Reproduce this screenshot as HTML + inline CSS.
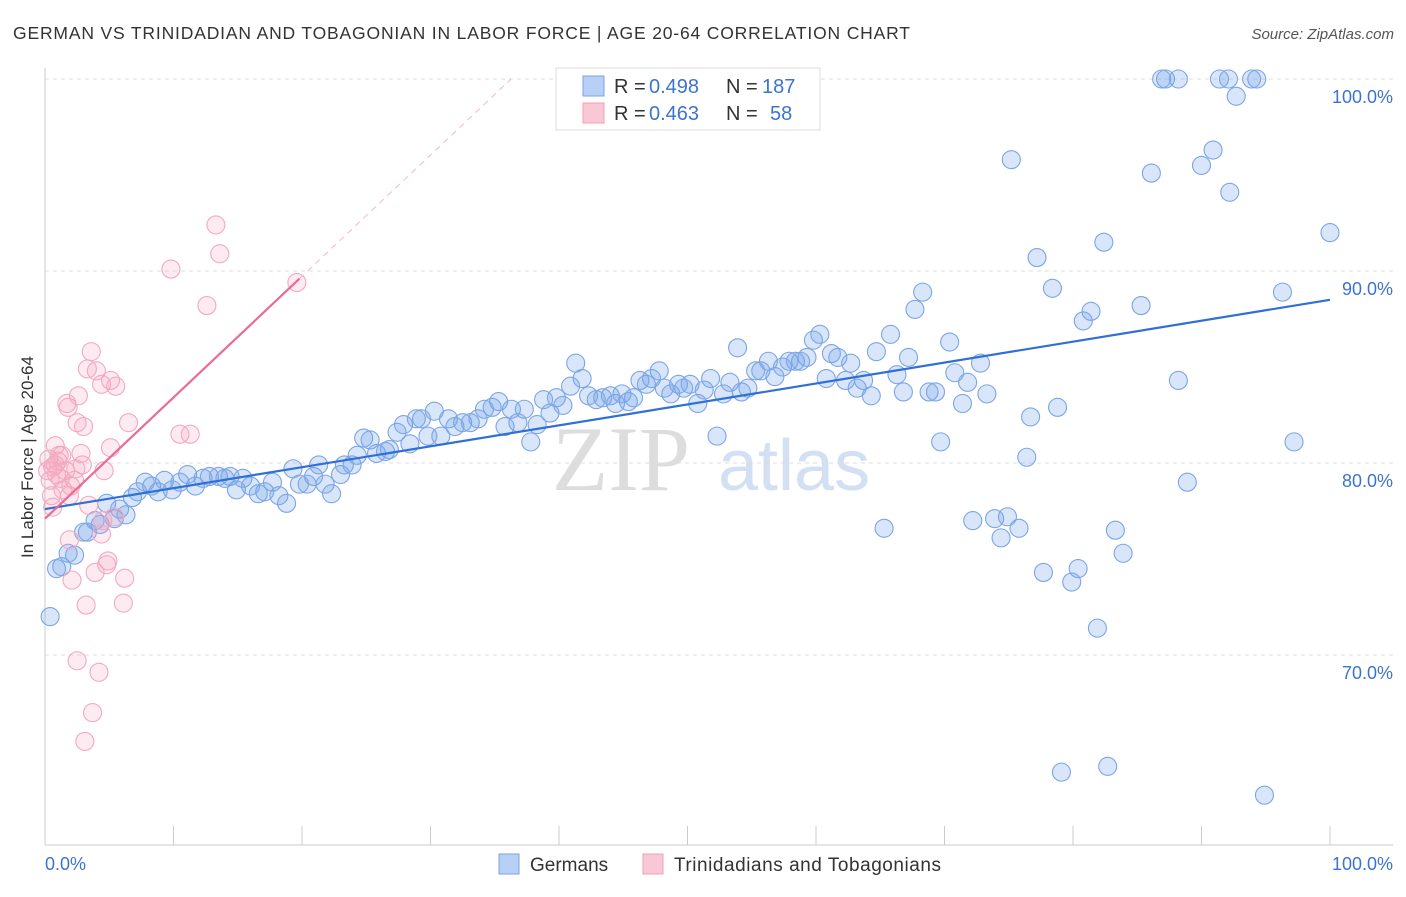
<!DOCTYPE html>
<html><head><meta charset="utf-8">
<style>
body{margin:0;background:#fff;font-family:"Liberation Sans",sans-serif;}
svg text{font-family:"Liberation Sans",sans-serif;}
</style></head>
<body>
<svg id="chart" width="1406" height="892" xmlns="http://www.w3.org/2000/svg">
<text x="13" y="39" font-size="17.5" fill="#333" textLength="897" lengthAdjust="spacing">GERMAN VS TRINIDADIAN AND TOBAGONIAN IN LABOR FORCE | AGE 20-64 CORRELATION CHART</text>
<text x="1394" y="39" font-size="15" fill="#555" font-style="italic" text-anchor="end">Source: ZipAtlas.com</text>
<g>
<text x="552" y="490" font-size="92" fill="#ddd" style="font-family:'Liberation Serif',serif">ZIP</text>
<text x="718" y="490" font-size="72" fill="#d3e0f4">atlas</text>
</g>
<g id="grid"></g>
<g id="axes"></g>
<g id="pts"></g>
<g id="trends"></g>
<text transform="translate(33,457) rotate(-90)" font-size="17" fill="#333" text-anchor="middle">In Labor Force | Age 20-64</text>
<g>
<rect x="556" y="68" width="264" height="62" fill="#fff" stroke="#ddd"/>
<rect x="583" y="76" width="21" height="20" fill="#b8d0f5" stroke="#7aa3e6"/>
<rect x="583" y="103" width="21" height="20" fill="#f9c8d6" stroke="#efa0b8"/>
<text x="614" y="93" font-size="20" fill="#333">R =</text>
<text x="649" y="93" font-size="20" fill="#3a74d0">0.498</text>
<text x="726" y="93" font-size="20" fill="#333">N =</text>
<text x="762" y="93" font-size="20" fill="#3a74d0">187</text>
<text x="614" y="120" font-size="20" fill="#333">R =</text>
<text x="649" y="120" font-size="20" fill="#3a74d0">0.463</text>
<text x="726" y="120" font-size="20" fill="#333">N =</text>
<text x="770" y="120" font-size="20" fill="#3a74d0">58</text>
</g>
<g>
<rect x="499" y="854" width="20" height="20" fill="#b8d0f5" stroke="#7aa3e6"/>
<text x="530" y="871" font-size="19" fill="#333">Germans</text>
<rect x="643" y="854" width="20" height="20" fill="#f9c8d6" stroke="#efa0b8"/>
<text x="674" y="871" font-size="19" fill="#333" textLength="267" lengthAdjust="spacing">Trinidadians and Tobagonians</text>
</g>
</svg>
<script>
const yTicks=[100,90,80,70];
const yTickLabels=["100.0%","90.0%","80.0%","70.0%"];
const xTickLabels=["0.0%","100.0%"];
const blueX=[0.4,0.9,1.3,1.8,2.3,3.0,3.3,3.9,4.3,4.8,5.4,5.8,6.3,6.8,7.2,7.8,8.3,8.8,9.3,9.9,10.5,11.1,11.7,12.3,12.8,13.5,14.0,14.4,14.9,15.4,16.0,16.6,17.1,17.7,18.2,18.8,19.3,19.8,20.4,20.9,21.3,21.8,22.3,23.0,23.3,23.9,24.3,24.8,25.3,25.8,26.5,26.8,27.4,27.9,28.4,28.9,29.3,29.8,30.3,30.8,31.4,31.9,32.5,33.1,33.7,34.2,34.8,35.3,35.8,36.3,36.8,37.3,37.8,38.3,38.8,39.3,39.8,40.3,40.9,41.3,41.8,42.3,42.9,43.4,44.0,44.4,44.9,45.4,45.8,46.3,46.8,47.2,47.8,48.2,48.7,49.3,49.7,50.2,50.8,51.3,51.8,52.3,52.8,53.3,53.9,54.2,54.7,55.3,55.7,56.3,56.8,57.4,57.9,58.4,58.8,59.3,59.8,60.3,60.8,61.2,61.7,62.3,62.7,63.2,63.7,64.3,64.7,65.3,65.8,66.3,66.8,67.2,67.7,68.3,68.8,69.3,69.7,70.4,70.8,71.4,71.8,72.2,72.8,73.3,73.9,74.4,74.9,75.2,75.8,76.4,76.7,77.2,77.7,78.4,78.8,79.1,79.9,80.4,80.8,81.4,81.9,82.4,82.7,83.3,83.9,85.3,86.1,86.9,87.2,88.2,88.2,88.9,90.0,90.9,91.4,92.1,92.2,92.7,93.9,94.3,94.9,96.3,97.2,100];
const blueY=[72.0,74.5,74.6,75.3,75.2,76.4,76.4,77.0,76.8,77.9,77.1,77.6,77.3,78.2,78.5,79.0,78.8,78.5,79.1,78.6,79.0,79.4,78.8,79.2,79.3,79.3,79.2,79.3,78.6,79.2,78.8,78.4,78.5,79.0,78.3,77.9,79.7,78.9,78.9,79.3,79.9,78.9,78.4,79.4,79.9,79.9,80.4,81.3,81.2,80.5,80.6,80.7,81.6,82.0,81.0,82.3,82.3,81.4,82.7,81.4,82.3,81.9,82.1,82.1,82.3,82.8,82.9,83.2,81.9,82.8,82.1,82.8,81.1,82.0,83.3,82.6,83.4,83.0,84.0,85.2,84.4,83.5,83.3,83.4,83.5,83.1,83.6,83.2,83.4,84.3,84.1,84.4,84.8,83.9,83.6,84.1,83.9,84.1,83.1,83.8,84.4,81.4,83.6,84.2,86.0,83.7,83.9,84.8,84.8,85.3,84.5,85.0,85.3,85.3,85.3,85.5,86.4,86.7,84.4,85.7,85.5,84.3,85.2,83.9,84.3,83.5,85.8,76.6,86.7,84.6,83.7,85.5,88.0,88.9,83.7,83.7,81.1,86.3,84.7,83.1,84.2,77.0,85.2,83.6,77.1,76.1,77.2,95.8,76.6,80.3,82.4,90.7,74.3,89.1,82.9,63.9,73.8,74.5,87.4,87.9,71.4,91.5,64.2,76.5,75.3,88.2,95.1,100,100,100,84.3,79.0,95.5,96.3,100,100,94.1,99.1,100,100,62.7,88.9,81.1,92.0];
const pinkX=[0.2,0.4,0.5,0.6,0.8,0.8,0.9,1.1,1.2,1.3,1.4,1.6,1.7,1.8,1.9,1.9,2.1,2.3,2.4,2.5,2.5,2.6,2.8,2.9,3.0,3.1,3.2,3.3,3.4,3.6,3.7,3.9,4.0,4.2,4.4,4.4,4.5,4.6,4.8,4.9,5.1,5.1,5.4,5.5,6.1,6.2,6.5,9.8,10.5,11.3,12.6,13.3,13.6,19.6,0.3,1.0,2.0,0.6];
const pinkY=[79.6,79.1,78.3,77.7,80.9,79.9,79.4,80.4,79.2,80.4,78.6,79.6,83.1,82.9,78.3,76.0,73.9,79.1,79.7,82.1,69.7,83.5,80.5,79.9,81.9,65.5,72.6,84.9,77.8,85.8,67.0,74.3,84.8,69.1,84.1,76.3,77.0,79.6,74.7,74.9,84.3,80.8,77.2,84.0,72.7,74.0,82.1,90.1,81.5,81.5,88.2,92.4,90.9,89.4,80.2,80.1,78.8,79.8];
const blueTrend=[77.6,88.5];
const pinkTrend=[77.1,89.6];
const pinkTrendEnd=19.8;

const NS="http://www.w3.org/2000/svg";
const X0=45,X1=1330,Y100=79,PX10=192;
const sx=v=>X0+(X1-X0)*v/100;
const sy=v=>Y100+(100-v)*PX10/10;
function mk(tag,attrs,parent){const e=document.createElementNS(NS,tag);for(const k in attrs)e.setAttribute(k,attrs[k]);parent.appendChild(e);return e;}
const grid=document.getElementById('grid'),axes=document.getElementById('axes'),pts=document.getElementById('pts'),tr=document.getElementById('trends');
yTicks.forEach((t,i)=>{
  const l=mk('line',{x1:45,x2:1393,y1:sy(t),y2:sy(t),stroke:'#ddd','stroke-dasharray':'4,4'},grid);
  
  
  const tx=mk('text',{x:1393,y:sy(t)+24,'font-size':18,fill:'#3a74d0','text-anchor':'end'},axes);
  tx.textContent=yTickLabels[i];
  
  
});
const ax=mk('line',{x1:45,x2:1393,y1:845,y2:845,stroke:'#ccc'},axes);


const ay=mk('line',{x1:45,x2:45,y1:68,y2:845,stroke:'#ccc'},axes);


for(let i=1;i<=10;i++){const tk=mk('line',{x1:sx(i*10),x2:sx(i*10),y1:826,y2:845,stroke:'#ccc'},axes);
  
  }
const xl0=mk('text',{x:45,y:870,'font-size':18,fill:'#3a74d0'},axes);xl0.textContent=xTickLabels[0];


const xl1=mk('text',{x:1393,y:870,'font-size':18,fill:'#3a74d0','text-anchor':'end'},axes);xl1.textContent=xTickLabels[1];


blueX.forEach((v,i)=>{const c=mk('circle',{cx:sx(v),cy:sy(blueY[i]),r:9,fill:'rgba(120,165,235,0.28)',stroke:'#7ba5e6','stroke-width':1.1},pts);
  
  });
pinkX.forEach((v,i)=>{const c=mk('circle',{cx:sx(v),cy:sy(pinkY[i]),r:9,fill:'rgba(245,165,190,0.22)',stroke:'#f2a9bf','stroke-width':1.1},pts);
  
  });
const bl=mk('line',{x1:sx(0),y1:sy(blueTrend[0]),x2:sx(100),y2:sy(blueTrend[1]),stroke:'#2f6fd6','stroke-width':2.2},tr);


const slope=(pinkTrend[1]-pinkTrend[0])/pinkTrendEnd;
const xEnd=(100-pinkTrend[0])/slope;
const pd=mk('line',{x1:sx(pinkTrendEnd),y1:sy(pinkTrend[1]),x2:sx(xEnd),y2:sy(100),stroke:'#f3b6c8','stroke-width':1,'stroke-dasharray':'6,5'},tr);


const pl=mk('line',{x1:sx(0),y1:sy(pinkTrend[0]),x2:sx(pinkTrendEnd),y2:sy(pinkTrend[1]),stroke:'#ec6a93','stroke-width':2.2},tr);


</script>
</body></html>
